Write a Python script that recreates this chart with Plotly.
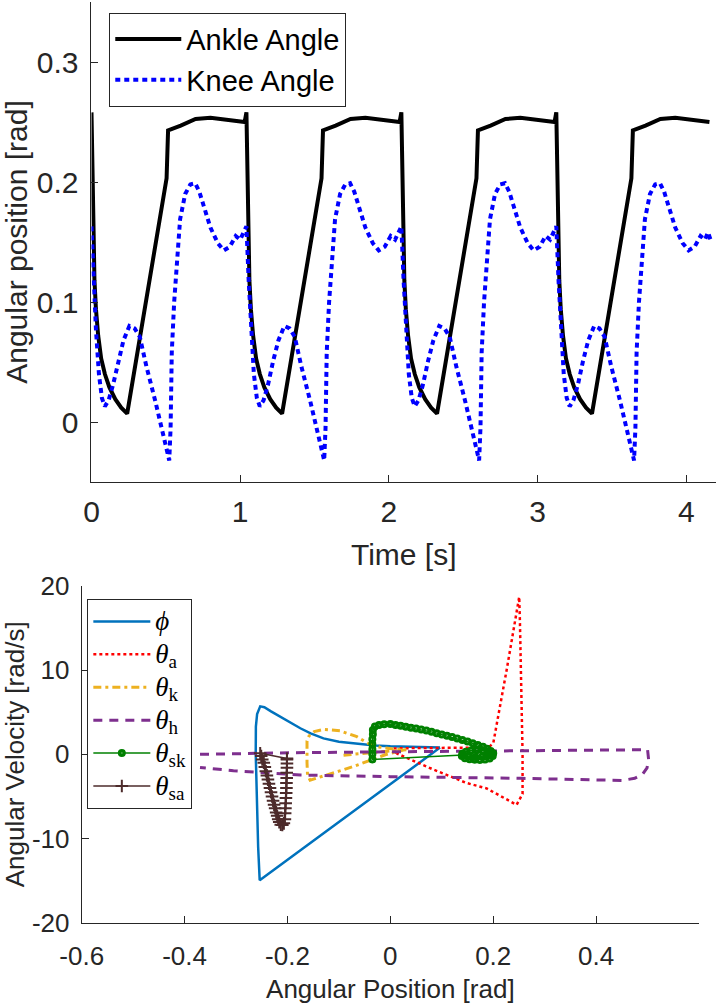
import plotly.graph_objects as go

# ---------------- top panel data ----------------
ankle_time = [
    0.000, 0.006, 0.012, 0.020, 0.030, 0.045, 0.065, 0.090, 0.120, 0.160, 0.200, 0.240, 0.505, 0.515, 0.600, 0.700, 0.800, 0.900, 1.030,
    1.042, 1.048, 1.054, 1.062, 1.072, 1.087, 1.107, 1.132, 1.162, 1.202, 1.242, 1.282, 1.547, 1.557, 1.642, 1.742, 1.842, 1.942, 2.072,
    2.084, 2.090, 2.096, 2.104, 2.114, 2.129, 2.149, 2.174, 2.204, 2.244, 2.284, 2.324, 2.589, 2.599, 2.684, 2.784, 2.884, 2.984, 3.114,
    3.126, 3.132, 3.138, 3.146, 3.156, 3.171, 3.191, 3.216, 3.246, 3.286, 3.326, 3.366, 3.631, 3.641, 3.726, 3.826, 3.926, 4.026, 4.156,
]
ankle_angle = [
    0.258, 0.200, 0.150, 0.118, 0.094, 0.072, 0.053, 0.040, 0.029, 0.019, 0.012, 0.007, 0.203, 0.243, 0.247, 0.2525, 0.2535, 0.2520, 0.2500,
    0.258, 0.200, 0.150, 0.118, 0.094, 0.072, 0.053, 0.040, 0.029, 0.019, 0.012, 0.007, 0.203, 0.243, 0.247, 0.2525, 0.2535, 0.2520, 0.2500,
    0.258, 0.200, 0.150, 0.118, 0.094, 0.072, 0.053, 0.040, 0.029, 0.019, 0.012, 0.007, 0.203, 0.243, 0.247, 0.2525, 0.2535, 0.2520, 0.2500,
    0.258, 0.200, 0.150, 0.118, 0.094, 0.072, 0.053, 0.040, 0.029, 0.019, 0.012, 0.007, 0.203, 0.243, 0.247, 0.2525, 0.2535, 0.2520, 0.2500,
]
knee_time = [
    0.000, 0.015, 0.030, 0.050, 0.070, 0.090, 0.115, 0.145, 0.180, 0.215, 0.255, 0.290, 0.325, 0.370, 0.428, 0.473, 0.505, 0.523,
    0.532, 0.540, 0.556, 0.574, 0.596, 0.630, 0.665, 0.697, 0.725, 0.755, 0.800, 0.850, 0.890, 0.930, 0.970, 1.000, 1.020, 1.037,
    1.042, 1.057, 1.072, 1.092, 1.112, 1.132, 1.157, 1.187, 1.222, 1.257, 1.297, 1.332, 1.367, 1.412, 1.470, 1.515, 1.547, 1.565,
    1.574, 1.582, 1.598, 1.616, 1.638, 1.672, 1.707, 1.739, 1.767, 1.797, 1.842, 1.892, 1.932, 1.972, 2.012, 2.042, 2.062, 2.079,
    2.084, 2.099, 2.114, 2.134, 2.154, 2.174, 2.199, 2.229, 2.264, 2.299, 2.339, 2.374, 2.409, 2.454, 2.512, 2.557, 2.589, 2.607,
    2.616, 2.624, 2.640, 2.658, 2.680, 2.714, 2.749, 2.781, 2.809, 2.839, 2.884, 2.934, 2.974, 3.014, 3.054, 3.084, 3.104, 3.121,
    3.126, 3.141, 3.156, 3.176, 3.196, 3.216, 3.241, 3.271, 3.306, 3.341, 3.381, 3.416, 3.451, 3.496, 3.554, 3.599, 3.631, 3.649,
    3.658, 3.666, 3.682, 3.700, 3.722, 3.756, 3.791, 3.823, 3.851, 3.881, 3.926, 3.976, 4.016, 4.056, 4.096, 4.126, 4.146, 4.163,
]
knee_angle = [
    0.163, 0.118, 0.077, 0.040, 0.020, 0.013, 0.018, 0.031, 0.051, 0.068, 0.080, 0.078, 0.071, 0.046, 0.018, -0.006, -0.025, -0.032,
    -0.005, 0.058, 0.100, 0.127, 0.169, 0.190, 0.198, 0.199, 0.192, 0.180, 0.162, 0.149, 0.143, 0.146, 0.155, 0.152, 0.158, 0.163,
    0.163, 0.118, 0.077, 0.040, 0.020, 0.013, 0.018, 0.031, 0.051, 0.068, 0.080, 0.078, 0.071, 0.046, 0.018, -0.006, -0.025, -0.032,
    -0.005, 0.058, 0.100, 0.127, 0.169, 0.190, 0.198, 0.199, 0.192, 0.180, 0.162, 0.149, 0.143, 0.146, 0.155, 0.152, 0.158, 0.163,
    0.163, 0.118, 0.077, 0.040, 0.020, 0.013, 0.018, 0.031, 0.051, 0.068, 0.080, 0.078, 0.071, 0.046, 0.018, -0.006, -0.025, -0.032,
    -0.005, 0.058, 0.100, 0.127, 0.169, 0.190, 0.198, 0.199, 0.192, 0.180, 0.162, 0.149, 0.143, 0.146, 0.155, 0.152, 0.158, 0.163,
    0.163, 0.118, 0.077, 0.040, 0.020, 0.013, 0.018, 0.031, 0.051, 0.068, 0.080, 0.078, 0.071, 0.046, 0.018, -0.006, -0.025, -0.032,
    -0.005, 0.058, 0.100, 0.127, 0.169, 0.190, 0.198, 0.199, 0.192, 0.180, 0.162, 0.149, 0.143, 0.146, 0.155, 0.152, 0.158, 0.152,
]
time_ticks = [0, 1, 2, 3, 4]
angle_ticks = [0, 0.1, 0.2, 0.3]
angle_tick_labels = ["0", "0.1", "0.2", "0.3"]

# ---------------- bottom panel data (phase portraits) ----------------
phi_pos = [0.0966, -0.254, -0.257, -0.259, -0.261, -0.2617, -0.2614, -0.259, -0.253, -0.245, -0.232, -0.214,
           -0.195, -0.175, -0.155, -0.130, -0.100, -0.065, -0.030, 0.000, 0.050, 0.0966]
phi_vel = [0.80, -14.95, -11.0, -7.0, -3.0, 0.1, 3.3, 4.8, 5.7, 5.6, 5.1, 4.47,
           3.75, 3.1, 2.5, 1.9, 1.5, 1.25, 1.05, 0.95, 0.85, 0.80]

theta_a_pos = [0.012, 0.006, 0.050, 0.100, 0.150, 0.190, 0.200, 0.2033, 0.213, 0.226, 0.239, 0.2505, 0.2518,
               0.255, 0.257, 0.257, 0.2454, 0.187, 0.148, 0.0835, 0.040, 0.012]
theta_a_vel = [0.12, 0.70, 0.75, 0.75, 0.75, 0.80, 1.30, 2.50, 5.66, 10.0, 14.8, 18.7, 16.0,
               8.0, 0.1, -4.7, -6.0, -4.04, -3.4, -1.8, -0.6, 0.12]

theta_k_pos = [-0.091, -0.050, -0.010, 0.031, 0.012, -0.020, -0.043, -0.065, -0.098, -0.130, -0.148, -0.158,
               -0.162, -0.162, -0.161, -0.156, -0.130, -0.100, -0.070, -0.039, -0.010, 0.025]
theta_k_vel = [-0.10, 0.15, 0.35, 0.55, 0.60, 0.85, 1.30, 2.10, 2.80, 2.97, 2.70, 2.20,
               1.60, -1.00, -2.50, -3.06, -2.60, -2.00, -1.40, -0.68, -0.05, 0.50]

theta_h_pos = [-0.370, -0.195, 0.000, 0.250, 0.500, 0.502, 0.499, 0.490, 0.475, 0.450, 0.256, 0.000,
               -0.175, -0.250, -0.305, -0.370]
theta_h_vel = [0.00, 0.19, 0.30, 0.43, 0.55, -0.60, -1.60, -2.40, -2.85, -3.10, -2.85, -2.65,
               -2.46, -2.15, -1.95, -1.55]

theta_sk_pos = [0.142, -0.035, -0.035, -0.035, -0.035, -0.035, -0.034, -0.034, -0.030, -0.022, -0.012,
                0.000, 0.010, 0.020, 0.030, 0.040, 0.050, 0.060, 0.070, 0.080, 0.090, 0.100, 0.110,
                0.120, 0.130, 0.140, 0.150, 0.160, 0.170, 0.180, 0.188, 0.195, 0.200, 0.199, 0.193,
                0.184, 0.174, 0.164, 0.154, 0.145, 0.139, 0.140, 0.147, 0.157, 0.168, 0.180, 0.190,
                0.195, 0.190, 0.178, 0.165, 0.152, 0.142]
theta_sk_vel = [-0.08, -0.60, 0.00, 0.60, 1.20, 1.80, 2.40, 2.90, 3.30, 3.50, 3.58,
                3.60, 3.50, 3.39, 3.28, 3.17, 3.06, 2.95, 2.82, 2.67, 2.52, 2.36, 2.21,
                2.05, 1.88, 1.70, 1.52, 1.33, 1.12, 0.90, 0.66, 0.40, 0.12, -0.20, -0.50,
                -0.62, -0.66, -0.64, -0.58, -0.45, -0.20, 0.08, 0.32, 0.46, 0.50, 0.45, 0.30,
                0.10, -0.15, -0.30, -0.32, -0.25, -0.08]

theta_sa_pos = [-0.201, -0.253, -0.251, -0.249, -0.246, -0.244, -0.242, -0.240, -0.238, -0.236, -0.234,
                -0.232, -0.230, -0.228, -0.226, -0.224, -0.222, -0.220, -0.218, -0.216, -0.213, -0.210,
                -0.207, -0.205, -0.2045, -0.204, -0.2035, -0.203, -0.2025, -0.202, -0.202, -0.2015,
                -0.2015, -0.201, -0.201, -0.201]
theta_sa_vel = [-0.50, 0.12, -0.20, -0.60, -1.00, -1.50, -2.00, -2.50, -3.00, -3.50, -4.00,
                -4.50, -5.00, -5.50, -6.00, -6.40, -6.90, -7.30, -7.70, -8.05, -8.35, -8.40,
                -8.20, -7.70, -7.00, -6.40, -5.80, -5.20, -4.60, -4.00, -3.40, -2.80,
                -2.20, -1.60, -1.10, -0.60]

phase_x_ticks = [-0.6, -0.4, -0.2, 0, 0.2, 0.4, 0.6]
phase_x_labels = ["-0.6", "-0.4", "-0.2", "0", "0.2", "0.4", "0.6"]
phase_y_ticks = [-20, -10, 0, 10, 20]
phase_y_labels = ["-20", "-10", "0", "10", "20"]

AX = "#262626"
SANS = "Liberation Sans, Arial, sans-serif"
SERIF = "Liberation Serif, DejaVu Serif, serif"


def math_label(sym, sub=""):
    txt = "<span style='font-size:27px'><i>" + sym + "</i></span>"
    if sub:
        txt += "<sub><span style='font-size:19px'>" + sub + "</span></sub>"
    return txt


fig = go.Figure()

# top panel
fig.add_trace(go.Scatter(x=ankle_time, y=ankle_angle, mode="lines", name="Ankle Angle",
                         line=dict(color="#000000", width=4), xaxis="x", yaxis="y", legend="legend"))
fig.add_trace(go.Scatter(x=knee_time, y=knee_angle, mode="lines", name="Knee Angle",
                         line=dict(color="#0000FF", width=4, dash="5px,4px"), xaxis="x", yaxis="y",
                         legend="legend"))

# bottom panel
fig.add_trace(go.Scatter(x=phi_pos, y=phi_vel, mode="lines", name=math_label("ϕ"),
                         line=dict(color="#0072BD", width=2.5), xaxis="x2", yaxis="y2", legend="legend2"))
fig.add_trace(go.Scatter(x=theta_a_pos, y=theta_a_vel, mode="lines", name=math_label("θ", "a"),
                         line=dict(color="#FF0000", width=2.5, dash="3px,3px"), xaxis="x2", yaxis="y2",
                         legend="legend2"))
fig.add_trace(go.Scatter(x=theta_k_pos, y=theta_k_vel, mode="lines", name=math_label("θ", "k"),
                         line=dict(color="#EDB120", width=3, dash="8px,4px,3px,4px"), xaxis="x2", yaxis="y2",
                         legend="legend2"))
fig.add_trace(go.Scatter(x=theta_h_pos, y=theta_h_vel, mode="lines", name=math_label("θ", "h"),
                         line=dict(color="#7E2F8E", width=3, dash="9px,7px"), xaxis="x2", yaxis="y2",
                         legend="legend2"))
fig.add_trace(go.Scatter(x=theta_sk_pos, y=theta_sk_vel, mode="lines+markers", name=math_label("θ", "sk"),
                         line=dict(color="#008000", width=1.5),
                         marker=dict(symbol="circle-open", size=5, color="#008000", line=dict(width=3, color="#008000")),
                         xaxis="x2", yaxis="y2", legend="legend2"))
fig.add_trace(go.Scatter(x=theta_sa_pos, y=theta_sa_vel, mode="lines+markers", name=math_label("θ", "sa"),
                         line=dict(color="#4D2B2B", width=1.5),
                         marker=dict(symbol="cross-thin", size=9, color="#4D2B2B", line=dict(width=2, color="#4D2B2B")),
                         xaxis="x2", yaxis="y2", legend="legend2"))

axis_common = dict(showline=True, linecolor=AX, linewidth=1, ticks="inside", ticklen=7, tickcolor=AX,
                   tickwidth=1, showgrid=False, zeroline=False, mirror=False, automargin=False)

fig.update_layout(
    width=717, height=1004,
    margin=dict(l=0, r=0, t=0, b=0),
    paper_bgcolor="white", plot_bgcolor="white",
    font=dict(family=SANS, color=AX),
    xaxis=dict(domain=[0.1276, 0.9986], range=[0, 4.2], anchor="y", tickvals=time_ticks,
               tickfont=dict(size=30, color=AX, family=SANS), ticklabelstandoff=3,
               title=dict(text="Time [s]", font=dict(size=30, color=AX, family=SANS), standoff=16),
               **axis_common),
    yaxis=dict(domain=[0.5199, 0.9980], range=[-0.05, 0.35], anchor="x", tickvals=angle_ticks,
               ticktext=angle_tick_labels,
               tickfont=dict(size=30, color=AX, family=SANS), ticklabelstandoff=6,
               title=dict(text="Angular position [rad]", font=dict(size=30, color=AX, family=SANS), standoff=6),
               **axis_common),
    xaxis2=dict(domain=[0.11395, 0.9749], range=[-0.6, 0.6], anchor="y2", tickvals=phase_x_ticks,
                ticktext=phase_x_labels,
                tickfont=dict(size=26, color=AX, family=SANS), ticklabelstandoff=10,
                title=dict(text="Angular Position [rad]", font=dict(size=26, color=AX, family=SANS), standoff=13),
                **axis_common),
    yaxis2=dict(domain=[0.08098, 0.41633], range=[-20, 20], anchor="x2", tickvals=phase_y_ticks,
                ticktext=phase_y_labels,
                tickfont=dict(size=26, color=AX, family=SANS), ticklabelstandoff=6,
                title=dict(text="Angular Velocity [rad/s]", font=dict(size=26, color=AX, family=SANS), standoff=6),
                **axis_common),
    legend=dict(x=0.1524, y=0.98735, xanchor="left", yanchor="top", bgcolor="white",
                bordercolor=AX, borderwidth=1, font=dict(size=29, color="#000000", family=SANS),
                itemwidth=66, tracegroupgap=0),
    legend2=dict(x=0.1218, y=0.40339, xanchor="left", yanchor="top", bgcolor="white",
                 bordercolor=AX, borderwidth=1, font=dict(size=23, color="#000000", family=SERIF),
                 itemwidth=57, tracegroupgap=0),
    showlegend=True,
)

fig.write_html("out.html", config={"displayModeBar": False},
               post_script="document.body.style.margin='0px';")
